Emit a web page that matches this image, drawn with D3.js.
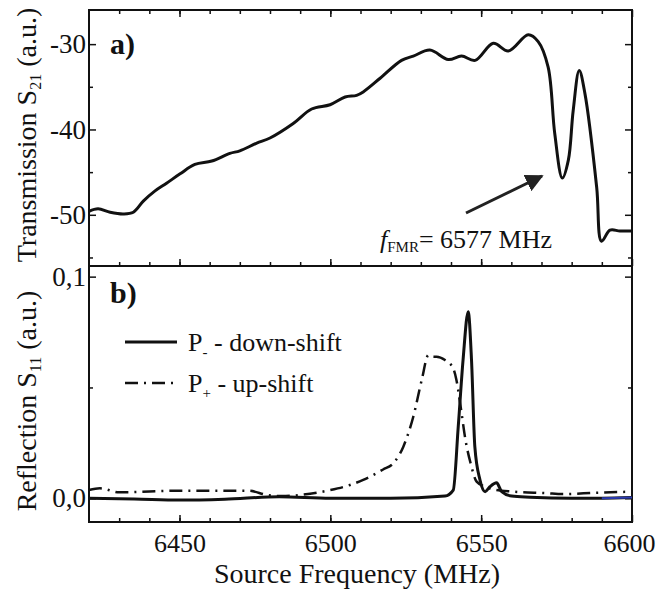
<!DOCTYPE html>
<html>
<head>
<meta charset="utf-8">
<script src="https://cdn.jsdelivr.net/npm/d3@7"></script>
<style>
  body { margin: 0; background: #fff; }
  svg text { font-family: "Liberation Serif", "Times New Roman", "DejaVu Serif", serif !important; fill: #111; }
</style>
</head>
<body>
<svg id="chart" width="657" height="594"></svg>
<script>
// panel a) transmission S21
const freqA = [6420, 6423, 6427, 6431.4, 6434.7, 6438, 6441.9, 6445.7, 6450.2, 6455.1, 6460.7, 6466.7, 6470, 6475.6, 6480, 6487.7, 6493.8, 6499.9,
  6504.9, 6508.7, 6510.9, 6516.5, 6523.6, 6527.5, 6533, 6539.1, 6543.5, 6548, 6554, 6559, 6565.6, 6568.9, 6572.2, 6574.4, 6576.9, 6578.9,
  6580.5, 6582.5, 6584.4, 6588.3, 6589.9, 6592.7, 6596, 6600];
const transA = [-49.6, -49.3, -49.7, -49.9, -49.7, -48.4, -47.2, -46.3, -45.2, -44.1, -43.7, -42.8, -42.5, -41.6, -41.0, -39.3, -37.6, -37.1,
  -36.2, -36.0, -35.6, -34.0, -31.9, -31.4, -30.7, -31.8, -31.4, -31.9, -29.9, -30.8, -28.9, -29.7, -32.7, -40.5, -45.7, -43.6,
  -37.8, -33.1, -35.8, -46.8, -53.1, -51.8, -51.9, -51.9];

// panel b) reflection S11
const freqDown = [6420, 6435, 6450, 6465, 6483, 6500, 6520, 6538, 6540.75, 6542.4, 6544, 6545.7, 6546.8, 6547.9, 6549.6, 6551.3, 6552.9,
  6555.1, 6556.8, 6560.1, 6566.2, 6580, 6590, 6600];
const downB = [0.0, -0.0003, -0.0008, -0.0004, 0.0007, 0.0, 0.0, 0.001, 0.0037, 0.0323, 0.0624, 0.0842, 0.0624, 0.0233, 0.0083, 0.003, 0.0052,
  0.007, 0.003, 0.001, 0.0005, 0.0, 0.0, 0.0003];
const freqUp = [6420, 6423.6, 6430, 6450, 6473, 6479, 6484, 6490, 6500, 6506.5, 6510.9, 6517.5, 6520.9, 6524.2, 6527.5, 6530.3, 6532.5,
  6534.2, 6535.2, 6538, 6540.7, 6541.8, 6543.2, 6544.8, 6546.5, 6548.5, 6551.3, 6554, 6560.6, 6571.7, 6577, 6588, 6600];
const upB = [0.0037, 0.0045, 0.0027, 0.0034, 0.0034, 0.0015, 0.001, 0.0015, 0.0037, 0.006, 0.0083, 0.013, 0.0158, 0.0233, 0.0368, 0.0534, 0.0646,
  0.0639, 0.0639, 0.0624, 0.0587, 0.0534, 0.0413, 0.0263, 0.0158, 0.0075, 0.0052, 0.004, 0.003, 0.0023, 0.0019, 0.0025, 0.003];

const xTicks = [6450, 6500, 6550, 6600];
const yTicksA = [-30, -40, -50];
const yTicksB = [0, 0.1];
const legendLabels = [["P", "-", " - down-shift"], ["P", "+", " - up-shift"]];

const FONT = "'Liberation Serif', 'Times New Roman', 'DejaVu Serif', serif";
const svg = d3.select("#chart").attr("font-family", FONT);
const left = 89, right = 632;
const topA = 10, mid = 266, botB = 522;

const x = d3.scaleLinear().domain([6420, 6600]).range([left, right]);
const yA = d3.scaleLinear().domain([-56, -26]).range([mid, topA]);
const yB = d3.scaleLinear().domain([-0.0107, 0.1048]).range([botB, mid]);

const minorX = d3.range(6430, 6600, 10);

function ticks(g) {
  g.attr("font-family", FONT);
  g.select(".domain").remove();
  g.selectAll("line").attr("stroke", "#111").attr("stroke-width", 1.5);
}

function frame(y, ytk, ymin, fmt, withTop) {
  const [y0, y1] = y.range();
  // minor ticks
  svg.append("g").attr("transform", `translate(0,${y0})`)
    .call(d3.axisBottom(x).tickValues(minorX).tickSize(-4).tickFormat("")).call(ticks);
  if (withTop) svg.append("g").attr("transform", `translate(0,${y1})`)
    .call(d3.axisTop(x).tickValues(minorX).tickSize(-4).tickFormat("")).call(ticks);
  svg.append("g").attr("transform", `translate(${left},0)`)
    .call(d3.axisLeft(y).tickValues(ymin).tickSize(-4).tickFormat("")).call(ticks);
  svg.append("g").attr("transform", `translate(${right},0)`)
    .call(d3.axisRight(y).tickValues(ymin).tickSize(-4).tickFormat("")).call(ticks);
  // major ticks
  svg.append("g").attr("transform", `translate(${left},0)`)
    .call(d3.axisLeft(y).tickValues(ytk).tickSize(-7).tickPadding(3).tickFormat(fmt)).call(ticks)
    .selectAll("text").style("font-size", "27px");
  svg.append("g").attr("transform", `translate(${right},0)`)
    .call(d3.axisRight(y).tickValues(ytk).tickSize(-7).tickFormat("")).call(ticks);
  svg.append("rect").attr("x", left).attr("y", y1).attr("width", right - left).attr("height", y0 - y1)
    .attr("fill", "none").attr("stroke", "#111").attr("stroke-width", 2);
}

// panel a
frame(yA, yTicksA, [-35, -45, -55], d => d, true);
svg.append("g").attr("transform", `translate(0,${mid})`)
  .call(d3.axisBottom(x).tickValues(xTicks).tickSize(-7).tickFormat("")).call(ticks);
svg.append("g").attr("transform", `translate(0,${topA})`)
  .call(d3.axisTop(x).tickValues(xTicks).tickSize(-7).tickFormat("")).call(ticks);

// panel b
frame(yB, yTicksB, [0.05], d => d3.format(".1f")(d).replace(".", ","), false);
svg.append("g").attr("transform", `translate(0,${botB})`)
  .call(d3.axisBottom(x).tickValues(xTicks).tickSize(-7).tickPadding(12).tickFormat(d => d)).call(ticks)
  .selectAll("text").style("font-size", "26px")
  .attr("dx", d => d === 6600 ? -3 : 0);

// curves
const lineA = d3.line().x((d, i) => x(freqA[i])).y(d => yA(d)).curve(d3.curveCatmullRom.alpha(0.5));
svg.append("path").datum(transA).attr("d", lineA)
  .attr("fill", "none").attr("stroke", "#111").attr("stroke-width", 3);

const lineUp = d3.line().x((d, i) => x(freqUp[i])).y(d => yB(d)).curve(d3.curveMonotoneX);
svg.append("path").datum(upB).attr("d", lineUp)
  .attr("fill", "none").attr("stroke", "#111").attr("stroke-width", 2.5).attr("stroke-dasharray", "13,6,2,6");

const lineDown = d3.line().x((d, i) => x(freqDown[i])).y(d => yB(d)).curve(d3.curveMonotoneX);
svg.append("path").datum(downB).attr("d", lineDown)
  .attr("fill", "none").attr("stroke", "#111").attr("stroke-width", 3);
// small blue tail at the end of the down-shift trace
const tail = downB.map((v, i) => [freqDown[i], v]).filter(d => d[0] >= 6590);
svg.append("path").datum(tail)
  .attr("d", d3.line().x(d => x(d[0])).y(d => yB(d[1])))
  .attr("fill", "none").attr("stroke", "#2b3bb0").attr("stroke-width", 2);

// panel labels
svg.append("text").attr("x", 110).attr("y", 54).text("a)").style("font-size", "30px").style("font-weight", "bold");
svg.append("text").attr("x", 110).attr("y", 303).text("b)").style("font-size", "30px").style("font-weight", "bold");

// annotation
const ann = svg.append("text").attr("x", 380).attr("y", 248).style("font-size", "26px");
ann.append("tspan").text("f").style("font-style", "italic");
ann.append("tspan").text("FMR").style("font-size", "15px").attr("dy", 4);
ann.append("tspan").text("= 6577 MHz").attr("dy", -4);

svg.append("defs").append("marker").attr("id", "head").attr("viewBox", "0 0 10 10")
  .attr("refX", 9).attr("refY", 5).attr("markerWidth", 6).attr("markerHeight", 6).attr("orient", "auto")
  .attr("markerUnits", "strokeWidth")
  .append("path").attr("d", "M0,0 L10,5 L0,10 Z").attr("fill", "#222");
svg.append("line").attr("x1", 466).attr("y1", 213).attr("x2", 542).attr("y2", 176)
  .attr("stroke", "#222").attr("stroke-width", 3).attr("marker-end", "url(#head)");

// legend
legendLabels.forEach((lab, i) => {
  const ly = 342 + i * 41;
  svg.append("line").attr("x1", 125).attr("x2", 177).attr("y1", ly).attr("y2", ly)
    .attr("stroke", "#111").attr("stroke-width", i === 0 ? 3 : 2.5)
    .attr("stroke-dasharray", i === 0 ? null : "13,6,2,6");
  const t = svg.append("text").attr("x", 188).attr("y", ly + 9).style("font-size", "26px");
  t.append("tspan").text(lab[0]);
  t.append("tspan").text(lab[1]).style("font-size", "15px").attr("dy", 6);
  t.append("tspan").text(lab[2]).attr("dy", -6);
});

// axis titles
svg.append("text").attr("x", 357).attr("y", 583).attr("text-anchor", "middle")
  .text("Source Frequency (MHz)").style("font-size", "28px");

const tA = svg.append("text").attr("transform", "translate(36,135) rotate(-90)").attr("text-anchor", "middle").style("font-size", "28px");
tA.append("tspan").text("Transmission S");
tA.append("tspan").text("21").style("font-size", "16px").attr("dy", 5);
tA.append("tspan").text(" (a.u.)").attr("dy", -5);

const tB = svg.append("text").attr("transform", "translate(36,401) rotate(-90)").attr("text-anchor", "middle").style("font-size", "28px");
tB.append("tspan").text("Reflection S");
tB.append("tspan").text("11").style("font-size", "16px").attr("dy", 5);
tB.append("tspan").text(" (a.u.)").attr("dy", -5);
</script>
</body>
</html>
